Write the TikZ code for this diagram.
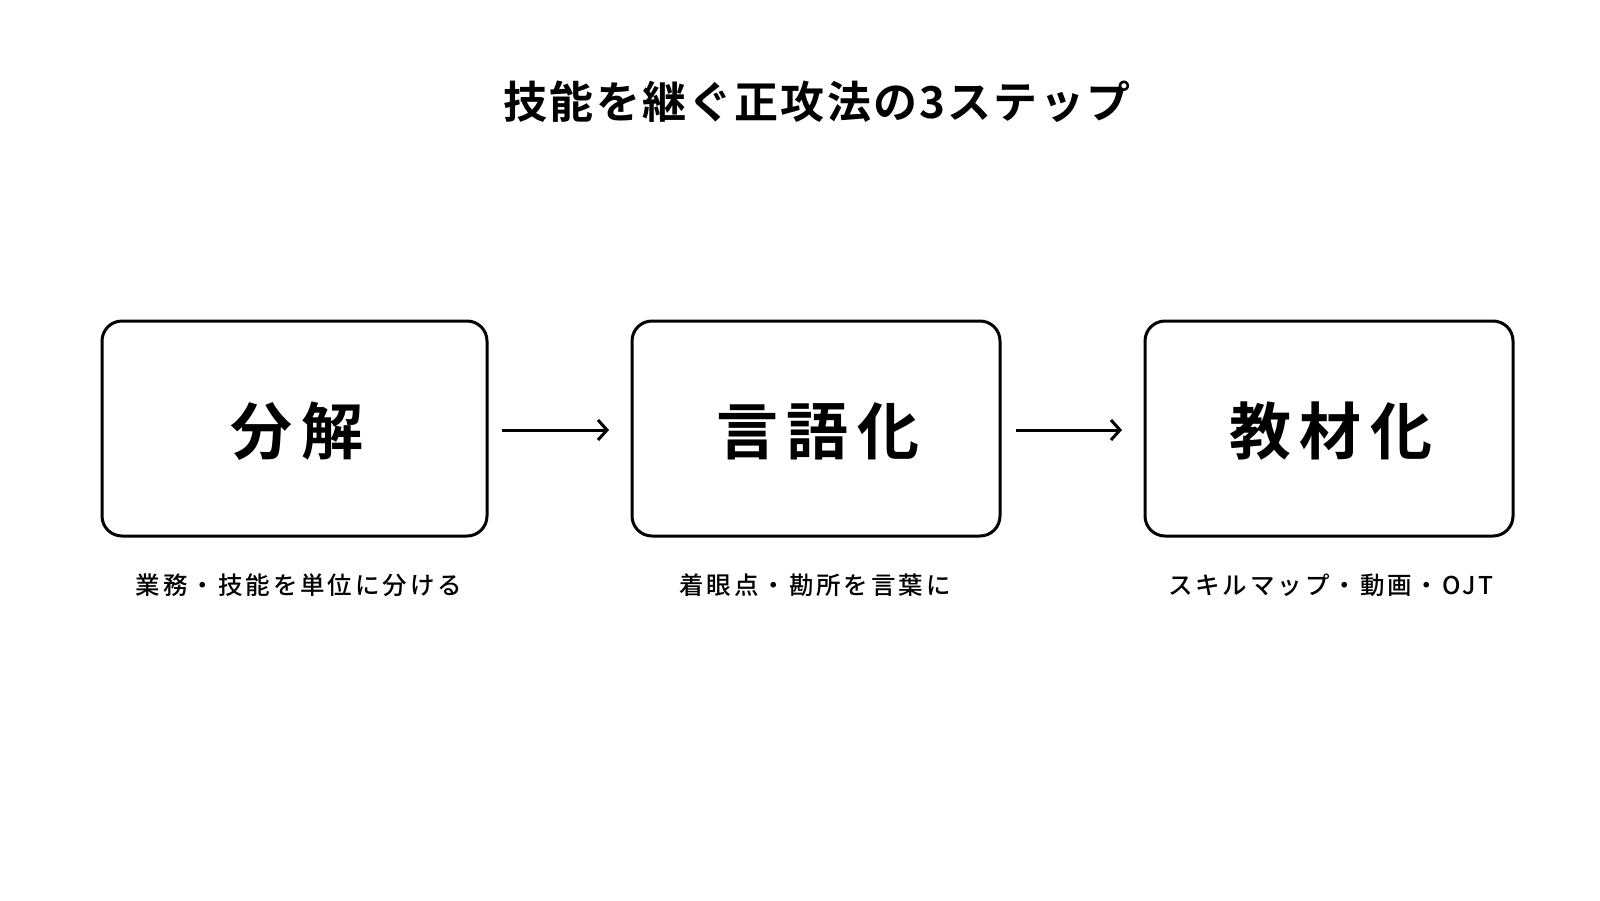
\documentclass[tikz,border=0pt]{standalone}
\usepackage{fontspec}
\usetikzlibrary{arrows.meta}
\newfontfamily\jpbold{Noto Sans CJK JP Bold}[LetterSpace=5]
\newfontfamily\jpboldwide{Noto Sans CJK JP Bold}[LetterSpace=14]
\newfontfamily\jpreg{Noto Sans CJK JP Medium}[LetterSpace=12]
\tikzset{
  stepbox/.style={draw=black, line width=3pt, rounded corners=20pt, fill=white},
  boxtext/.style={font=\jpboldwide\fontsize{62}{64}\selectfont, inner sep=0pt},
  sublabel/.style={font=\jpreg\fontsize{24.5}{26}\selectfont, inner sep=0pt},
  flow/.style={line width=3pt, -{Straight Barb[length=9pt, width=20pt, line width=3pt]}}
}
\begin{document}
\begin{tikzpicture}[x=1pt,y=-1pt]
\useasboundingbox[fill=white] (0,0) rectangle (1600,900);
\node[font=\jpbold\fontsize{44}{46}\selectfont, inner sep=0pt] (title) at (817,102) {技能を継ぐ正攻法の3ステップ};
\draw[stepbox] (102,321) rectangle (487,536);
\draw[stepbox] (632,321) rectangle (1000,536);
\draw[stepbox] (1145,321) rectangle (1513,536);
\node[boxtext] (b1) at (297,431) {分解};
\node[boxtext] (b2) at (818,431) {言語化};
\node[boxtext] (b3) at (1331,431) {教材化};
\coordinate (a1s) at (502,430);
\coordinate (a1e) at (609,430);
\coordinate (a2s) at (1016,430);
\coordinate (a2e) at (1122,430);
\draw[flow] (a1s) -- (a1e);
\draw[flow] (a2s) -- (a2e);
\node[sublabel] (l1) at (299,585) {業務・技能を単位に分ける};
\node[sublabel] (l2) at (815,585) {着眼点・勘所を言葉に};
\node[sublabel] (l3) at (1331,585) {スキルマップ・動画・OJT};
\end{tikzpicture}
\end{document}
